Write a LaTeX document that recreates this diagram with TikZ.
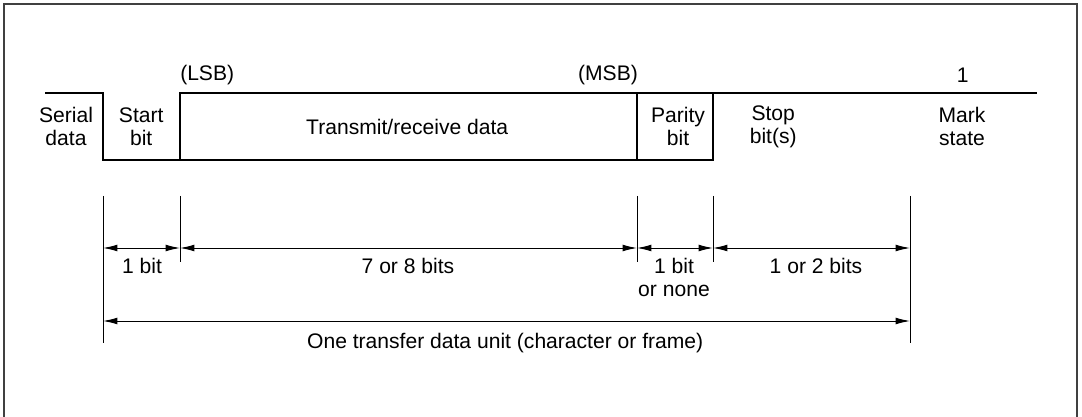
\documentclass[tikz,border=0pt]{standalone}
\usepackage{fontspec}
\setmainfont{Liberation Sans}
\usetikzlibrary{arrows.meta}
\begin{document}
\begin{tikzpicture}[
  wave/.style={line width=1.3pt},
  dim/.style={line width=0.7pt},
  span/.style={dim,{Latex[length=0.36cm,width=0.17cm]}-{Latex[length=0.36cm,width=0.17cm]}},
  lbl/.style={align=center,inner sep=0pt,font=\fontsize{15}{16.2}\selectfont}
]
\useasboundingbox (0,0) rectangle (27.05,10.425);

% frame
\draw[line width=1pt,black!75] (0.1,0) -- (0.1,10.325) -- (26.925,10.325) -- (26.925,0);

% waveform
\draw[wave] (1.125,8.1) -- (2.575,8.1) -- (2.575,6.425) -- (17.825,6.425) -- (17.825,8.1);
\draw[wave] (4.5,6.425) -- (4.5,8.1) -- (25.925,8.1);
\draw[wave] (15.925,6.425) -- (15.925,8.1);

\node[lbl] (serial) at (1.65,7.26) {Serial\\data};
\node[lbl] (start) at (3.53,7.26) {Start\\bit};
\node[lbl] (data) at (10.18,7.26) {Transmit/receive data};
\node[lbl] (parity) at (16.95,7.26) {Parity\\bit};
\node[lbl] (stop) at (19.33,7.26) {Stop\\bit(s)};
\node[lbl] (mark) at (24.05,7.26) {Mark\\state};

\node[lbl] (lsb) at (5.18,8.55) {(LSB)};
\node[lbl] (msb) at (15.2,8.55) {(MSB)};
\node[lbl] (one) at (24.07,8.55) {1};

% extension lines
\draw[dim] (2.575,5.525) -- (2.575,1.85);
\draw[dim] (4.5,5.525) -- (4.5,3.875);
\draw[dim] (15.925,5.525) -- (15.925,3.875);
\draw[dim] (17.825,5.525) -- (17.825,3.875);
\draw[dim] (22.75,5.525) -- (22.75,1.85);

% dimension arrows
\coordinate (a0) at (2.575,4.225);
\coordinate (a1) at (4.5,4.225);
\coordinate (a2) at (15.925,4.225);
\coordinate (a3) at (17.825,4.225);
\coordinate (a4) at (22.75,4.225);
\draw[span] (a0) -- (a1);
\draw[span] (a1) -- (a2);
\draw[span] (a2) -- (a3);
\draw[span] (a3) -- (a4);

\coordinate (b0) at (2.575,2.4);
\coordinate (b1) at (22.75,2.4);
\draw[span] (b0) -- (b1);

\node[lbl] (w1) at (3.55,3.78) {1 bit};
\node[lbl] (w2) at (10.2,3.78) {7 or 8 bits};
\node[lbl] (w3) at (16.85,3.48) {1 bit\\or none};
\node[lbl] (w4) at (20.4,3.78) {1 or 2 bits};
\node[lbl] (unit) at (12.63,1.86) {One transfer data unit (character or frame)};
\end{tikzpicture}
\end{document}
